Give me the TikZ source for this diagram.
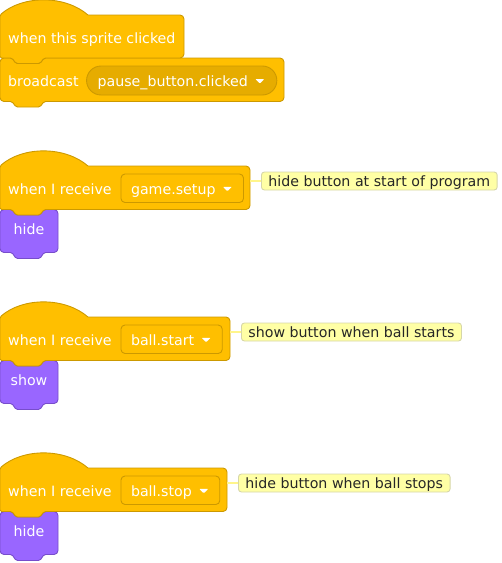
\documentclass[tikz,border=0pt]{standalone}
\usepackage{fontspec}
\setmainfont{DejaVu Sans}
\usepackage{xcolor}
\usepackage{tikz}
\usetikzlibrary{positioning}

\definecolor{events}{HTML}{FFBF00}
\definecolor{eventsdark}{HTML}{E6AC00}
\definecolor{eventsline}{HTML}{CC9900}
\definecolor{looks}{HTML}{9966FF}
\definecolor{looksline}{HTML}{774DCB}
\definecolor{notefill}{HTML}{FFFFA5}
\definecolor{noteline}{HTML}{D6D6A8}
\definecolor{notelink}{HTML}{FFF58A}

\begin{document}
\begin{tikzpicture}[x=1pt, y=-1pt,
  blk/.style={font=\fontsize{14.2}{17}\selectfont, text=white, inner sep=0pt},
  hatshape/.style={fill=events, draw=eventsline, line width=0.9pt},
  lookshape/.style={fill=looks, draw=looksline, line width=0.9pt},
  menu/.style={blk, draw=eventsline, fill=events, line width=0.9pt, rounded corners=4pt,
    inner xsep=10pt, text height=20.5pt, text depth=8pt},
  pill/.style={blk, draw=eventsline, fill=eventsdark, line width=0.9pt, rounded corners=14.5pt,
    inner xsep=11pt, text height=20pt, text depth=9pt},
  note/.style={font=\fontsize{14.2}{17}\selectfont, text=black!85, fill=notefill, draw=noteline,
    line width=0.9pt, rounded corners=3pt, inner xsep=7pt, inner ysep=0pt, text height=14.3pt, text depth=3.7pt},
  link/.style={draw=notelink, line width=1.2pt}]
\useasboundingbox (0,0) rectangle (502,563);

% when this sprite clicked / broadcast
\draw[hatshape, rounded corners=1.5] (0,58) -- (12,58) -- (16,63.5) -- (40,63.5) -- (44,58)
  [rounded corners=4] -- (284,58) -- (284,101.5) [rounded corners=1.5] -- (44,101.5) -- (40,107)
  -- (16,107) -- (12,101.5) [rounded corners=4] -- (0,101.5) -- cycle;
\draw[hatshape] (0,15) .. controls (23,-5) and (65,-5) .. (88,15) [rounded corners=4] -- (184,15)
  -- (184,58) [rounded corners=1.5] -- (44,58) -- (40,63.5) -- (16,63.5) -- (12,58) -- (0,58) -- cycle;
\node[blk, anchor=base west] (clicked) at (8,43.5) {when this sprite clicked};
\node[blk, anchor=base west] (bcast) at (8,86) {broadcast};
\node[pill, right=7.3pt of bcast.base east, anchor=base west] (bmsg) {pause\_button.clicked\rule{18pt}{0pt}};
\fill[white, rounded corners=0.8] ([xshift=-22pt,yshift=1.5pt]bmsg.east) -- ++(9,0) -- ++(-4.5,4.5) -- cycle;

% receive scripts with comments
\foreach \i/\t/\w/\msg/\act/\txt in {2/166/250/game.setup/hide/hide button at start of program,
    3/317/230/ball.start/show/show button when ball starts,
    4/468/227/ball.stop/hide/hide button when ball stops} {
  \pgfmathsetmacro\b{\t+43.5}
  \draw[lookshape, rounded corners=1.5] (0,\b) -- (12,\b) -- (16,\b+5.5) -- (40,\b+5.5) -- (44,\b)
    [rounded corners=4] -- (58,\b) -- (58,\b+43) [rounded corners=1.5] -- (44,\b+43) -- (40,\b+49)
    -- (16,\b+49) -- (12,\b+43) [rounded corners=4] -- (0,\b+43) -- cycle;
  \draw[hatshape] (0,\t) .. controls (23,\t-20) and (65,\t-20) .. (88,\t) [rounded corners=4] -- (\w,\t)
    -- (\w,\b) [rounded corners=1.5] -- (44,\b) -- (40,\b+5.5) -- (16,\b+5.5) -- (12,\b) -- (0,\b) -- cycle;
  \node[blk, anchor=base west] (hat\i) at (8,\t+28.5) {when I receive};
  \node[menu, right=8.7pt of hat\i.base east, anchor=base west] (menu\i) {\msg\rule{18pt}{0pt}};
  \fill[white, rounded corners=0.8] ([xshift=-21pt,yshift=1.5pt]menu\i.east) -- ++(9,0) -- ++(-4.5,4.5) -- cycle;
  \node[blk, anchor=base] (act\i) at (29,\b+25) {\act};
  \coordinate (edge\i) at (\w,\t+15);
  \node[note, right=11pt of edge\i] (note\i) {\txt};
  \draw[link] (edge\i) -- (note\i);
}
\end{tikzpicture}
\end{document}
